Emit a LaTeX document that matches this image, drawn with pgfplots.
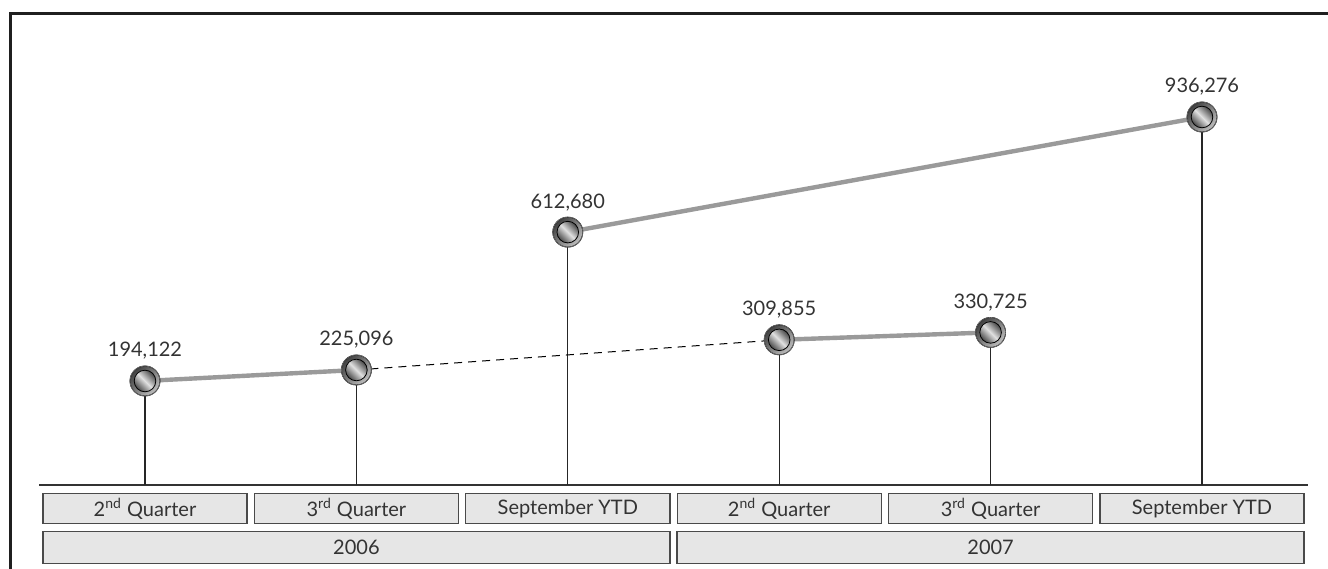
\documentclass[border=0pt]{standalone}
\usepackage{fontspec}
\setmainfont{Lato}
\usepackage{pgfplots}
\usepackage{pgfplotstable}
\pgfplotsset{compat=1.18}

\definecolor{linegray}{HTML}{9A9A9A}
\definecolor{boxfill}{HTML}{E6E6E6}
\definecolor{boxdraw}{HTML}{4A4A4A}
\definecolor{txt}{HTML}{333333}

% metallic ball marker (canvas units so it sits on the data point)
\pgfdeclareplotmark{metal}{%
  \shade[left color=black!75, right color=black!25, shading angle=45] (0pt,0pt) circle (7.5pt);
  \shade[left color=black!72, right color=black!72, middle color=black!12, shading angle=-45] (0pt,0pt) circle (5.4pt);
  \draw[black!55, line width=0.3pt] (0pt,0pt) circle (7.5pt);
}

\pgfplotstableread{
x y
0 194122
1 225096
2 612680
3 309855
4 330725
5 936276
}\points

\begin{document}
\begin{tikzpicture}
\begin{axis}[
  at={(0,0)}, anchor=south west,
  scale only axis,
  width=634.2pt, height=236pt,
  xmin=-0.5, xmax=5.5,
  ymin=-98250, ymax=1228640,
  clip=false,
  axis x line*=bottom,
  hide y axis,
  axis line style={black!80, line width=0.8pt},
  xtick={0,...,5},
  xticklabels={2\textsuperscript{nd} Quarter, 3\textsuperscript{rd} Quarter, September YTD,
               2\textsuperscript{nd} Quarter, 3\textsuperscript{rd} Quarter, September YTD},
  major tick length=0pt,
  xticklabel style={draw=boxdraw, fill=boxfill, line width=0.7pt, inner sep=0pt,
    minimum width=102pt, minimum height=15pt, anchor=north, yshift=-4pt,
    text=txt, font=\fontsize{10}{12}\selectfont},
  extra x ticks={1,4},
  extra x tick labels={2006,2007},
  extra x tick style={xticklabel style={minimum width=313.4pt, minimum height=16pt, yshift=-19pt}},
  /pgf/number format/assume math mode=true,
]
% stems
\addplot[draw=none, mark=none,
  error bars/.cd, y dir=minus, y explicit,
  error mark=none, error bar style={black!85, line width=0.6pt}]
  table[x=x, y=y, y error expr=\thisrow{y}+98250] {\points};
% connecting lines
\addplot[linegray, line width=2.2pt, mark=none] coordinates {(0,194122) (1,225096)};
\addplot[black, line width=0.5pt, dash pattern=on 4pt off 3pt, mark=none] coordinates {(1,225096) (3,309855)};
\addplot[linegray, line width=2.2pt, mark=none] coordinates {(3,309855) (4,330725)};
\addplot[linegray, line width=2.2pt, mark=none] coordinates {(2,612680) (5,936276)};
% markers and labels
\addplot[only marks, mark=metal,
  nodes near coords,
  point meta=y,
  nodes near coords style={anchor=base, yshift=12pt, text=txt, font=\fontsize{10}{12}\selectfont,
    /pgf/number format/.cd, fixed, precision=0, 1000 sep={,}, assume math mode=true}]
  table[x=x, y=y] {\points};
\end{axis}
\begin{scope}[x=0.5pt, y=-0.5pt, shift={(-19.65pt,242.5pt)}]
  \draw[black!88, line width=1.5pt] (10,572) -- (10,13.7) -- (1332,13.7);
  \pgfresetboundingbox
  \path[use as bounding box] (0,0) rectangle (1328,568);
\end{scope}
\end{tikzpicture}
\end{document}
